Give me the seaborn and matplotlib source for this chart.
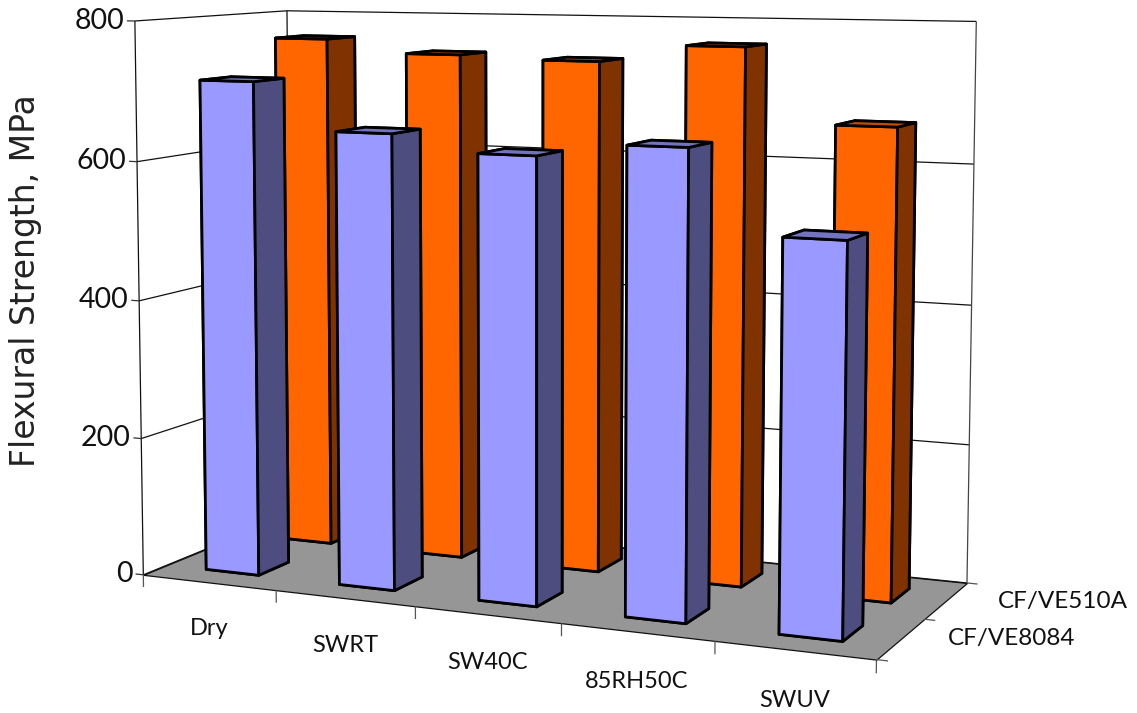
import numpy as np
import matplotlib
matplotlib.use("Agg")
import matplotlib.pyplot as plt
import seaborn as sns
from mpl_toolkits.mplot3d.art3d import Poly3DCollection

# Flexural strength of two composites after each conditioning treatment
conditions = ["Dry", "SWRT", "SW40C", "85RH50C", "SWUV"]
materials = ["CF/VE8084", "CF/VE510A"]
ve8084_strength = [714, 647, 624, 643, 530]
ve510a_strength = [765, 746, 741, 766, 661]
value_ticks = [0, 200, 400, 600, 800]

# Colours per bar face: (front, side, top)
ve8084_faces = ("#9999FF", "#4D4D80", "#7373BF")
ve510a_faces = ("#FF6600", "#803300", "#BF4D00")
floor_colour = "#969696"

# Camera calibration: box corners -> figure pixels
box_corners = np.array([
    (0, 0, 0), (5, 0, 0), (5, 0, 0), (0, 2, 0), (5, 2, 0), (0, 0, 800),
    (0, 2, 800), (5, 2, 800), (5, 2, 600), (0, 0, 600),
], float)
pixel_corners = np.array([
    (145, 573), (876, 661), (876, 661), (290, 516), (968, 580), (134, 20),
    (288, 11), (976, 22), (974, 164), (137, 162),
], float)

WIDTH, HEIGHT = 1137, 713


def fit_camera(world, image):
    rows, rhs = [], []
    for (x, y, z), (u, v) in zip(world, image):
        z = z / 800
        rows.append([x, y, z, 1, 0, 0, 0, 0, -u * x, -u * y, -u * z])
        rows.append([0, 0, 0, 0, x, y, z, 1, -v * x, -v * y, -v * z])
        rhs += [u, v]
    p = np.linalg.lstsq(np.array(rows), np.array(rhs), rcond=None)[0]
    cam = np.append(p, 1.0).reshape(3, 4)
    cam[:, 2] /= 800
    return cam


camera = fit_camera(box_corners, pixel_corners)
# Larger means farther away: back, left and lower faces are painted first
depth_row = np.array([-1.0, 1.0, -1 / 700, 10.0])

sns.set_theme(style="white", rc={"font.family": ["DejaVu Sans"]})
label_font = ["Lato", "DejaVu Sans"]

fig = plt.figure(figsize=(WIDTH / 100, HEIGHT / 100), dpi=100, facecolor="white")
ax = fig.add_axes([0, 0, 1, 1], projection="3d", computed_zorder=False,
                  proj_type="ortho")
ax.apply_aspect = lambda position=None: None
ax.set_position([0, 0, 1, 1])
ax.set_xticks([])
ax.set_yticks([])
ax.set_zticks([])
ax.set_axis_off()
for axis in (ax.xaxis, ax.yaxis, ax.zaxis):
    axis.set_visible(False)


def fixed_projection():
    (x0, y0), (x1, y1) = ax.viewLim.get_points()
    to_view = np.array([
        [(x1 - x0) / WIDTH, 0, x0],
        [0, -(y1 - y0) / HEIGHT, y1],
        [0, 0, 1],
    ])
    m = to_view @ camera
    return np.vstack([m[0], m[1], depth_row, m[2]])


ax.get_proj = fixed_projection


def box_text(x, y, z, label, **kwargs):
    """Place a label at a box coordinate, using the same camera as the bars."""
    u, v, w = camera @ np.array([x, y, z, 1.0])
    fig.text(u / w / WIDTH, 1 - v / w / HEIGHT, label, va="center",
             family=label_font, color="#111111", **kwargs)


def line3d(xs, ys, zs, z=2, lw=0.9, color="#111111"):
    ax.plot(xs, ys, zs, color=color, lw=lw, zorder=z, solid_capstyle="butt")


# Floor
floor = Poly3DCollection([[(0, 0, 0), (5, 0, 0), (5, 2, 0), (0, 2, 0)]],
                         facecolor=floor_colour, edgecolor="#111111",
                         linewidth=0.9, zorder=1)
ax.add_collection3d(floor)

# Wall gridlines and outlines
for v in value_ticks:
    line3d([0, 0, 5], [0, 2, 2], [v, v, v], z=1.5)
line3d([0, 0], [0, 0], [0, 800], z=1.5)
line3d([0, 0], [2, 2], [0, 800], z=1.5)
line3d([5, 5], [2, 2], [0, 800], z=1.5, color="#444444")

# Tick marks
for v in value_ticks:
    line3d([-0.06, 0], [0, 0], [v, v], z=1.5, color="#333333")
for i in range(len(conditions) + 1):
    line3d([i, i], [0, 0], [-18, 0], z=1.5, color="#555555")
for s in range(len(materials) + 1):
    line3d([5, 5.07], [s, s], [0, 0], z=1.5, color="#555555")


def draw_row(values, row, faces, zorder):
    n = len(values)
    xs = np.arange(n) + 0.3
    ys = np.full(n, row + 0.3)
    zs = np.zeros(n)
    front, side, top = faces
    per_bar = [side, top, front, side, side, side]
    ax.bar3d(xs, ys, zs, 0.4, 0.4, values, color=per_bar * n, shade=False,
             edgecolor="black", linewidth=2.0, zorder=zorder)


draw_row(ve510a_strength, 1, ve510a_faces, 3)
draw_row(ve8084_strength, 0, ve8084_faces, 4)

# Axis text
for v in value_ticks:
    box_text(-0.08, 0, v, str(v), ha="right", fontsize=20.5)
for i, name in enumerate(conditions):
    box_text(i + 0.5, 0, -67, name, ha="center", fontsize=17)
for s, name in enumerate(materials):
    box_text(5.285 + 0.045 * s, s + 0.5, 7, name, ha="left", fontsize=17.5)

fig.text(26 / WIDTH, 1 - 281 / HEIGHT, "Flexural Strength, MPa", rotation=90,
         ha="center", va="center", fontsize=23.8, color="#222222")

fig.savefig("out.png", dpi=100)
